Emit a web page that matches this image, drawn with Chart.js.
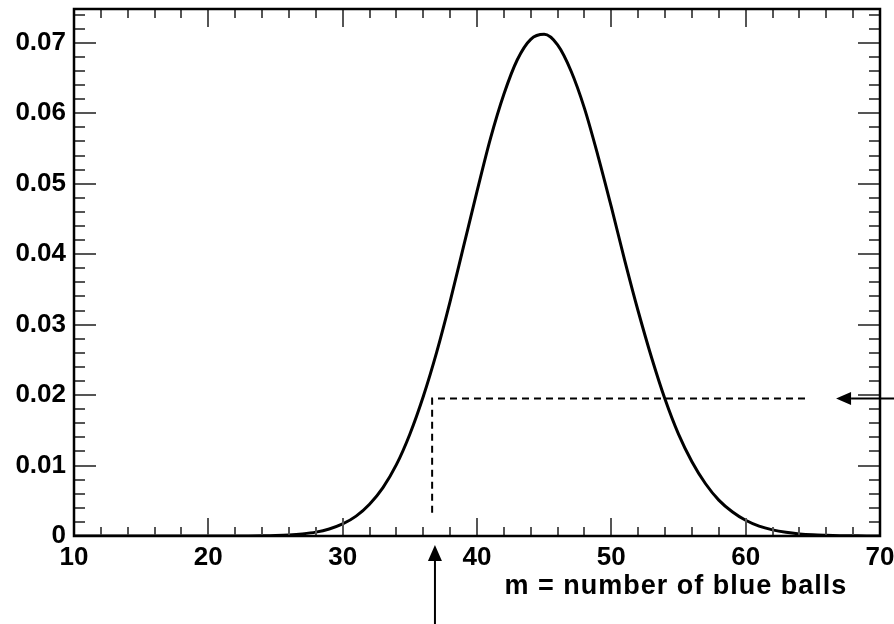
<!DOCTYPE html>
<html>
<head>
<meta charset="utf-8">
<script src="https://cdn.jsdelivr.net/npm/chart.js@4.4.1/dist/chart.umd.min.js"></script>
<style>
  html, body { margin: 0; padding: 0; background: #ffffff; }
  #wrap { width: 894px; height: 624px; position: relative; }
</style>
</head>
<body>
<div id="wrap"><canvas id="c"></canvas></div>
<script>
// ---- data ----
const mValues = [10,11,12,13,14,15,16,17,18,19,20,21,22,23,24,25,26,27,28,29,30,
                 31,32,33,34,35,36,37,38,39,40,41,42,43,44,45,46,47,48,49,50,
                 51,52,53,54,55,56,57,58,59,60,61,62,63,64,65,66,67,68,69,70];
const probValues = [0,0,0,0,0,0,0,0,0,0,0,0,0,0.00001,0.00003,0.00007,0.00015,0.0003,0.00055,0.001,0.00171,
                    0.00282,0.00451,0.00687,0.01012,0.01445,0.0198,0.0261,0.0333,0.0411,0.0489,
                    0.0564,0.0627,0.0676,0.0705,0.0712,0.0697,0.0660,0.0607,0.0540,0.0467,
                    0.0391,0.0319,0.0253,0.0194,0.01445,0.01054,0.00745,0.00509,0.00344,0.00223,
                    0.0014,0.00087,0.00052,0.0003,0.00017,0.0001,0.00005,0.00003,0.00001,0.00001];
const guideX = [36.66, 36.66, 64.55];
const guideY = [0.0033, 0.0195, 0.0195];
const xTicks = [10,20,30,40,50,60,70];
const xTickLabels = ['10','20','30','40','50','60','70'];
const yTicks = [0,0.01,0.02,0.03,0.04,0.05,0.06,0.07];
const yTickLabels = ['0','0.01','0.02','0.03','0.04','0.05','0.06','0.07'];
const xMinorStep = 2;
const yMinorStep = 0.002;
const xRange = [10, 70];
const yRange = [0, 0.0748];
const xAxisTitle = 'm = number of blue balls';
const titleCenterX = 54.8;       // in data units
const upArrowX = 36.87;          // data units
const leftArrowTipX = 66.73;     // data units
const leftArrowY = 0.0195;       // data units

const FONT = '"Liberation Sans", Arial, Helvetica, sans-serif';

const curve = mValues.map((m, i) => ({ x: m, y: probValues[i] }));
const guide = guideX.map((x, i) => ({ x: x, y: guideY[i] }));

function arrow(ctx, x1, y1, x2, y2, headLen, headHalf) {
  const ang = Math.atan2(y2 - y1, x2 - x1);
  const bx = x2 - headLen * Math.cos(ang), by = y2 - headLen * Math.sin(ang);
  ctx.beginPath();
  ctx.moveTo(x1, y1); ctx.lineTo(bx, by); ctx.stroke();
  ctx.beginPath();
  ctx.moveTo(x2, y2);
  ctx.lineTo(bx + headHalf * Math.sin(ang), by - headHalf * Math.cos(ang));
  ctx.lineTo(bx - headHalf * Math.sin(ang), by + headHalf * Math.cos(ang));
  ctx.closePath(); ctx.fill();
}

const framePlugin = {
  id: 'frame',
  afterDraw(chart) {
    const ctx = chart.ctx, a = chart.chartArea;
    const xs = chart.scales.x, ys = chart.scales.y;
    ctx.save();
    // inward ticks
    ctx.strokeStyle = '#555'; ctx.lineWidth = 2;
    for (let v = xRange[0]; v <= xRange[1] + 1e-9; v += xMinorStep) {
      const major = Math.abs(v / 10 - Math.round(v / 10)) < 1e-6;
      const len = major ? 18 : 9;
      const px = Math.round(xs.getPixelForValue(v)) + 0.0;
      ctx.beginPath(); ctx.moveTo(px, a.bottom); ctx.lineTo(px, a.bottom - len); ctx.stroke();
      ctx.beginPath(); ctx.moveTo(px, a.top); ctx.lineTo(px, a.top + len); ctx.stroke();
    }
    for (let k = 0; k * yMinorStep <= yRange[1] + 1e-9; k++) {
      const v = k * yMinorStep;
      const major = k % 5 === 0;
      const len = major ? 22 : 11;
      const py = Math.round(ys.getPixelForValue(v));
      ctx.beginPath(); ctx.moveTo(a.left, py); ctx.lineTo(a.left + len, py); ctx.stroke();
      ctx.beginPath(); ctx.moveTo(a.right, py); ctx.lineTo(a.right - len, py); ctx.stroke();
    }
    // frame
    ctx.strokeStyle = '#000'; ctx.lineWidth = 2.5;
    ctx.strokeRect(a.left, a.top, a.right - a.left, a.bottom - a.top);
    // axis title
    ctx.fillStyle = '#000';
    ctx.font = 'bold 27px ' + FONT;
    try { ctx.letterSpacing = '1px'; } catch (e) {}
    ctx.textAlign = 'center'; ctx.textBaseline = 'alphabetic';
    ctx.fillText(xAxisTitle, xs.getPixelForValue(titleCenterX), a.bottom + 57.5);
    try { ctx.letterSpacing = '0px'; } catch (e) {}
    // arrows
    ctx.strokeStyle = '#000'; ctx.fillStyle = '#000'; ctx.lineWidth = 2;
    const ux = xs.getPixelForValue(upArrowX);
    arrow(ctx, ux, chart.height + 2, ux, a.bottom + 9, 16, 7);
    const ly = ys.getPixelForValue(leftArrowY);
    arrow(ctx, chart.width + 2, ly, xs.getPixelForValue(leftArrowTipX), ly, 15, 6.5);
    ctx.restore();
  }
};

new Chart(document.getElementById('c'), {
  type: 'scatter',
  data: {
    datasets: [
      { data: curve, showLine: true, borderColor: '#000', borderWidth: 3, pointRadius: 0,
        cubicInterpolationMode: 'monotone', fill: false },
      { data: guide, showLine: true, borderColor: '#000', borderWidth: 2, borderDash: [7, 5],
        pointRadius: 0, tension: 0, fill: false }
    ]
  },
  options: {
    responsive: true, maintainAspectRatio: false, devicePixelRatio: 1, animation: false,
    layout: { padding: { top: 9, right: 14, left: 0, bottom: 0 } },
    plugins: { legend: { display: false }, tooltip: { enabled: false }, title: { display: false } },
    scales: {
      x: {
        type: 'linear', min: xRange[0], max: xRange[1],
        grid: { display: false, drawTicks: false }, border: { display: false },
        afterBuildTicks(s) { s.ticks = xTicks.map(v => ({ value: v })); },
        afterFit(s) { s.height = 88; s.paddingLeft = 0; s.paddingRight = 0; },
        ticks: { padding: 6, maxRotation: 0, autoSkip: false, color: '#000',
                 font: { family: FONT, size: 26, weight: 'bold' },
                 callback: (v, i) => xTickLabels[i] }
      },
      y: {
        type: 'linear', min: yRange[0], max: yRange[1],
        grid: { display: false, drawTicks: false }, border: { display: false },
        afterBuildTicks(s) { s.ticks = yTicks.map(v => ({ value: v })); },
        afterFit(s) { s.width = 74; s.paddingTop = 0; s.paddingBottom = 0; },
        ticks: { padding: 8, autoSkip: false, color: '#000',
                 font: { family: FONT, size: 26, weight: 'bold' },
                 callback: (v, i) => yTickLabels[i] }
      }
    }
  },
  plugins: [framePlugin]
});
</script>
</body>
</html>
